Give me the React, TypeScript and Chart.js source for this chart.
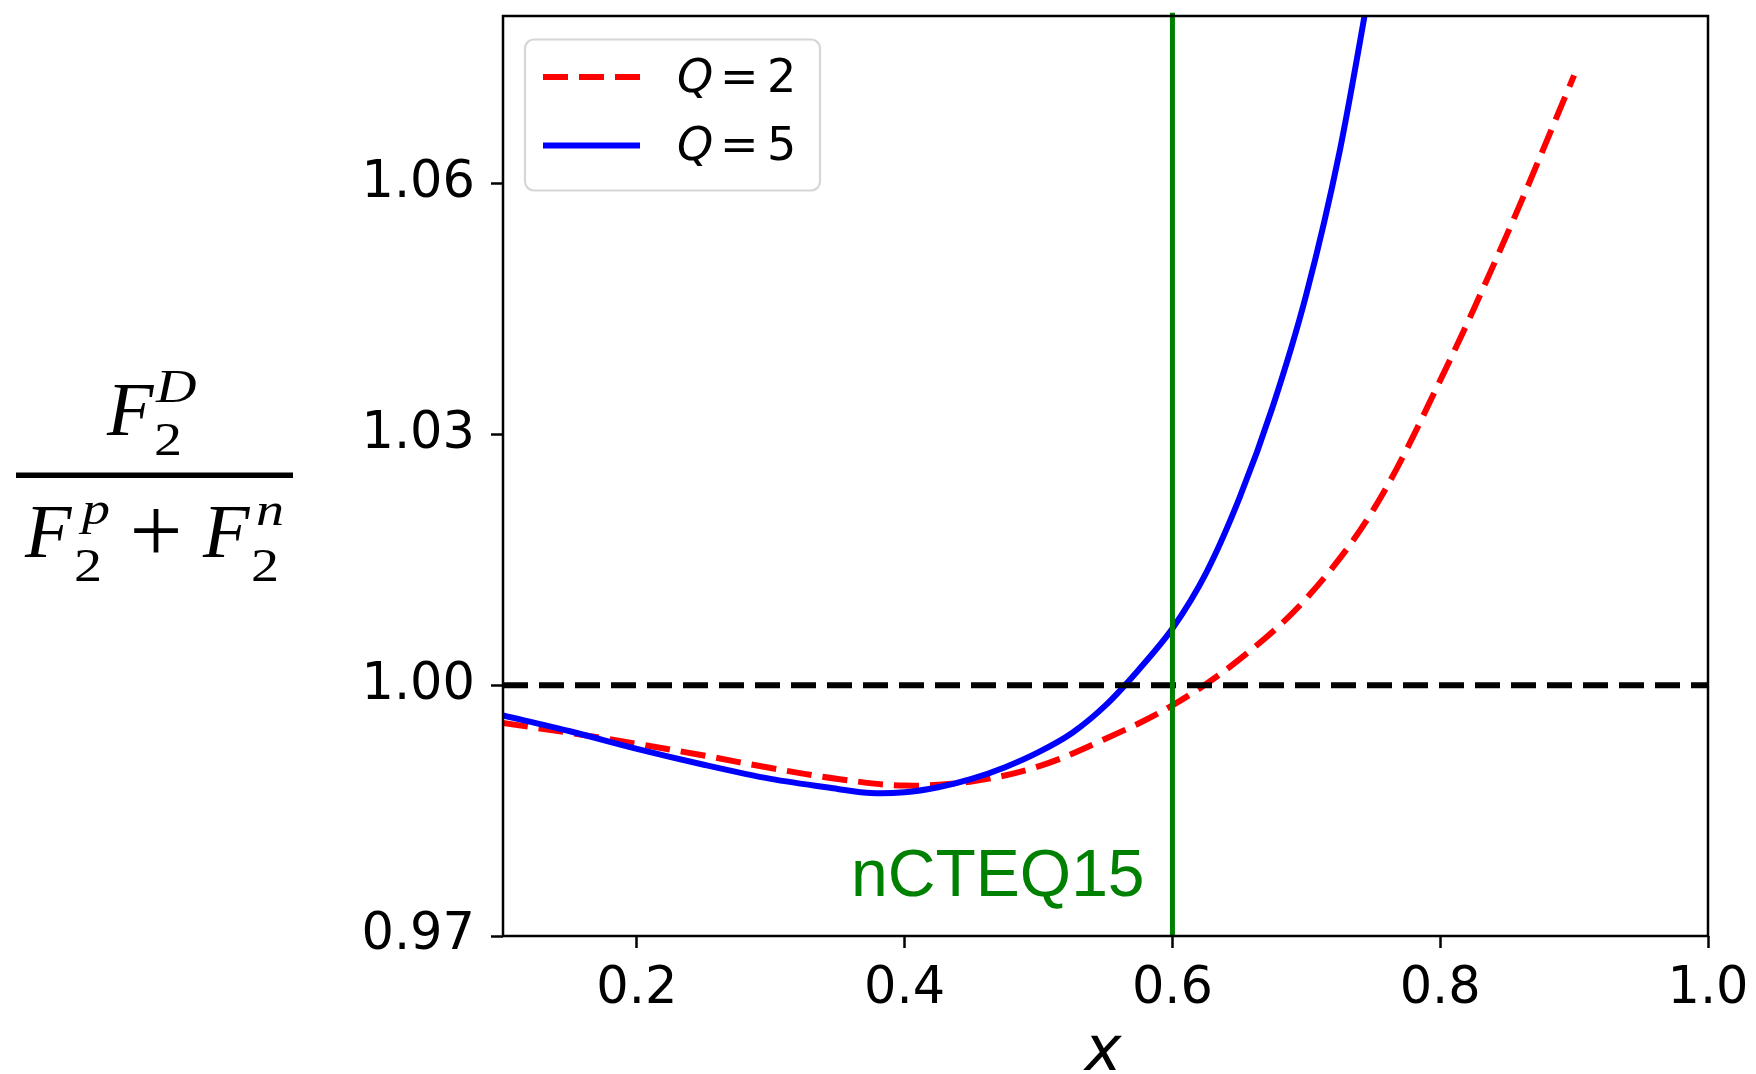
import React, { useEffect, useRef } from 'react';
import { Chart, registerables } from 'chart.js';

Chart.register(...registerables);

// ---- data ----
const q2Label = 'Q = 2';
const q2X = [0.1, 0.15, 0.2, 0.25, 0.3, 0.35, 0.4, 0.45, 0.5, 0.55, 0.6, 0.65, 0.7, 0.75, 0.8, 0.85, 0.9];
const q2Y = [0.9955, 0.9943, 0.993, 0.9916, 0.9901, 0.9888, 0.988, 0.9885, 0.9903, 0.9936, 0.9976, 1.0031, 1.0104, 1.021, 1.0365, 1.054, 1.073];

const q5Label = 'Q = 5';
const q5X = [0.1, 0.15, 0.2, 0.25, 0.3, 0.35, 0.375, 0.4, 0.425, 0.45, 0.475, 0.5, 0.525, 0.55, 0.575, 0.6, 0.625, 0.65, 0.675, 0.7, 0.725, 0.75];
const q5Y = [0.9964, 0.9945, 0.9924, 0.9905, 0.9888, 0.9876, 0.9871, 0.9872, 0.9878, 0.9888, 0.9902, 0.992, 0.9943, 0.9976, 1.0019, 1.0068, 1.0134, 1.0224, 1.0334, 1.0468, 1.064, 1.086];

const unityX = [0.1, 1.0];
const unityY = [1.0, 1.0];

const nCTEQLabel = 'nCTEQ15';
const nCTEQX = [0.6, 0.6];
const nCTEQY = [0.97, 1.0805];
const nCTEQTextAt = [0.36, 0.9748];

const xTicks = [0.2, 0.4, 0.6, 0.8, 1.0];
const yTicks = [0.97, 1.0, 1.03, 1.06];
const xRange = [0.1, 1.0];
const yRange = [0.97, 1.0801];
const xAxisLabel = 'x';

const legendLabels = [q2Label, q5Label];

const SANS = '"DejaVu Sans", sans-serif';
const SERIF = '"Liberation Serif", "Times New Roman", serif';
const HELV = '"Liberation Sans", Arial, sans-serif';

const zip = (xs: number[], ys: number[]) => xs.map((x, i) => ({ x, y: ys[i] }));

const decorPlugin = {
  id: 'decor',
  afterDatasetsDraw(chart: any) {
    const { ctx, chartArea } = chart;
    ctx.save();
    ctx.strokeStyle = '#000';
    ctx.lineWidth = 2.5;
    ctx.strokeRect(chartArea.left, chartArea.top, chartArea.right - chartArea.left, chartArea.bottom - chartArea.top);
    ctx.restore();
  },
  afterDraw(chart: any) {
    const { ctx, scales } = chart;
    const xs = scales.x;
    const ys = scales.y;
    ctx.save();

    // nCTEQ15 annotation
    ctx.fillStyle = 'green';
    ctx.font = `66px ${HELV}`;
    ctx.textAlign = 'left';
    ctx.textBaseline = 'alphabetic';
    ctx.fillText(nCTEQLabel, xs.getPixelForValue(nCTEQTextAt[0]), ys.getPixelForValue(nCTEQTextAt[1]));

    // legend
    const bx = 525, by = 39.5, bw = 295, bh = 151;
    ctx.beginPath();
    ctx.roundRect(bx, by, bw, bh, 9);
    ctx.fillStyle = 'rgba(255,255,255,0.85)';
    ctx.fill();
    ctx.strokeStyle = '#d6d6d6';
    ctx.lineWidth = 2.2;
    ctx.stroke();

    legendLabels.forEach((lab, i) => {
      const d = chart.data.datasets.find((ds: any) => ds.label === lab);
      if (!d) return;
      const rowMid = 77 + i * 68.5;
      const baseline = 91.7 + i * 68.5;
      ctx.save();
      ctx.strokeStyle = d.borderColor;
      ctx.lineWidth = d.borderWidth;
      ctx.setLineDash(d.borderDash || []);
      ctx.lineCap = 'butt';
      ctx.beginPath();
      ctx.moveTo(543, rowMid);
      ctx.lineTo(640, rowMid);
      ctx.stroke();
      ctx.restore();

      const [lhs, rhs] = String(d.label).split(' = ');
      ctx.fillStyle = '#000';
      ctx.textAlign = 'left';
      ctx.textBaseline = 'alphabetic';
      ctx.font = `italic 46px ${SANS}`;
      ctx.fillText(lhs, 677, baseline);
      ctx.font = `46px ${SANS}`;
      ctx.fillText('=', 720, baseline);
      ctx.fillText(rhs, 767, baseline);
    });

    // x-axis label
    ctx.fillStyle = '#000';
    ctx.font = `italic 62px ${SANS}`;
    ctx.textAlign = 'center';
    ctx.textBaseline = 'alphabetic';
    ctx.fillText(xAxisLabel, 1103, 1070);

    // y-axis label: F2^D / (F2^p + F2^n)
    const big = `italic 76px ${SERIF}`;
    const sm = `46px ${SERIF}`;
    const smi = `italic 46px ${SERIF}`;
    const put = (s: string, x: number, y: number, f: string, sx = 1) => {
      ctx.save();
      ctx.font = f;
      ctx.translate(x, y);
      ctx.scale(sx, 1);
      ctx.fillText(s, 0, 0);
      ctx.restore();
    };
    const SX = 1.22;
    ctx.textAlign = 'left';
    put('F', 107, 435, big);
    put('2', 154, 455, sm, SX);
    put('D', 156, 402, smi, SX);
    ctx.fillRect(16, 472.5, 277, 5.5);
    put('F', 25, 557, big);
    put('2', 74, 581, sm, SX);
    put('p', 82, 524, smi, SX);
    ctx.textAlign = 'center';
    put('+', 156, 562, `94px ${SERIF}`);
    ctx.textAlign = 'left';
    put('F', 203, 557, big);
    put('2', 251, 581, sm, SX);
    put('n', 256, 525, smi, SX);

    ctx.restore();
  },
};

export default function App() {
  const canvasRef = useRef<HTMLCanvasElement | null>(null);

  useEffect(() => {
    const canvas = canvasRef.current;
    if (!canvas) return;
    const chart = new Chart(canvas, {
      type: 'line',
      data: {
        datasets: [
          {
            label: nCTEQLabel,
            data: zip(nCTEQX, nCTEQY),
            borderColor: 'green',
            borderWidth: 5,
            pointRadius: 0,
            order: 0,
            clip: { left: 0, top: 6, right: 0, bottom: 0 },
          } as any,
          {
            label: 'unity',
            data: zip(unityX, unityY),
            borderColor: '#000',
            borderWidth: 6,
            borderDash: [25, 11],
            pointRadius: 0,
            order: 1,
          },
          {
            label: q5Label,
            data: zip(q5X, q5Y),
            borderColor: '#0000ff',
            borderWidth: 6,
            pointRadius: 0,
            tension: 0.3,
            order: 2,
          },
          {
            label: q2Label,
            data: zip(q2X, q2Y),
            borderColor: '#ff0000',
            borderWidth: 6,
            borderDash: [25, 11],
            pointRadius: 0,
            tension: 0.35,
            order: 3,
          },
        ],
      },
      options: {
        responsive: false,
        animation: false,
        events: [],
        layout: { padding: { top: 16, right: 48, left: 0, bottom: 0 } },
        plugins: {
          legend: { display: false },
          tooltip: { enabled: false },
          title: { display: false },
        },
        scales: {
          x: {
            type: 'linear',
            position: 'bottom',
            min: xRange[0],
            max: xRange[1],
            afterBuildTicks: (s: any) => {
              s.ticks = xTicks.map((v) => ({ value: v }));
            },
            afterFit: (s: any) => {
              s.height = 138;
              s.paddingLeft = 0;
              s.paddingRight = 0;
              s.paddingTop = 0;
              s.paddingBottom = 0;
            },
            ticks: {
              autoSkip: false,
              maxRotation: 0,
              padding: 11,
              color: '#000',
              font: { family: SANS, size: 51 },
              callback: (v: any) => Number(v).toFixed(1),
            },
            grid: {
              drawOnChartArea: false,
              drawTicks: true,
              tickLength: 12,
              tickWidth: 2.5,
              tickColor: '#000',
              color: '#000',
            },
            border: { display: false },
          },
          y: {
            type: 'linear',
            position: 'left',
            min: yRange[0],
            max: yRange[1],
            afterBuildTicks: (s: any) => {
              s.ticks = yTicks.map((v) => ({ value: v }));
            },
            afterFit: (s: any) => {
              s.width = 503;
              s.paddingLeft = 0;
              s.paddingRight = 0;
              s.paddingTop = 0;
              s.paddingBottom = 0;
            },
            ticks: {
              autoSkip: false,
              padding: 16,
              color: '#000',
              font: { family: SANS, size: 51 },
              callback: (v: any) => Number(v).toFixed(2),
            },
            grid: {
              drawOnChartArea: false,
              drawTicks: true,
              tickLength: 12,
              tickWidth: 2.5,
              tickColor: '#000',
              color: '#000',
            },
            border: { display: false },
          },
        },
      } as any,
      plugins: [decorPlugin],
    });
    return () => chart.destroy();
  }, []);

  return (
    <div style={{ position: 'fixed', left: 0, top: 0, width: 1756, height: 1074, background: '#fff' }}>
      <canvas ref={canvasRef} width={1756} height={1074} style={{ display: 'block' }} />
    </div>
  );
}
